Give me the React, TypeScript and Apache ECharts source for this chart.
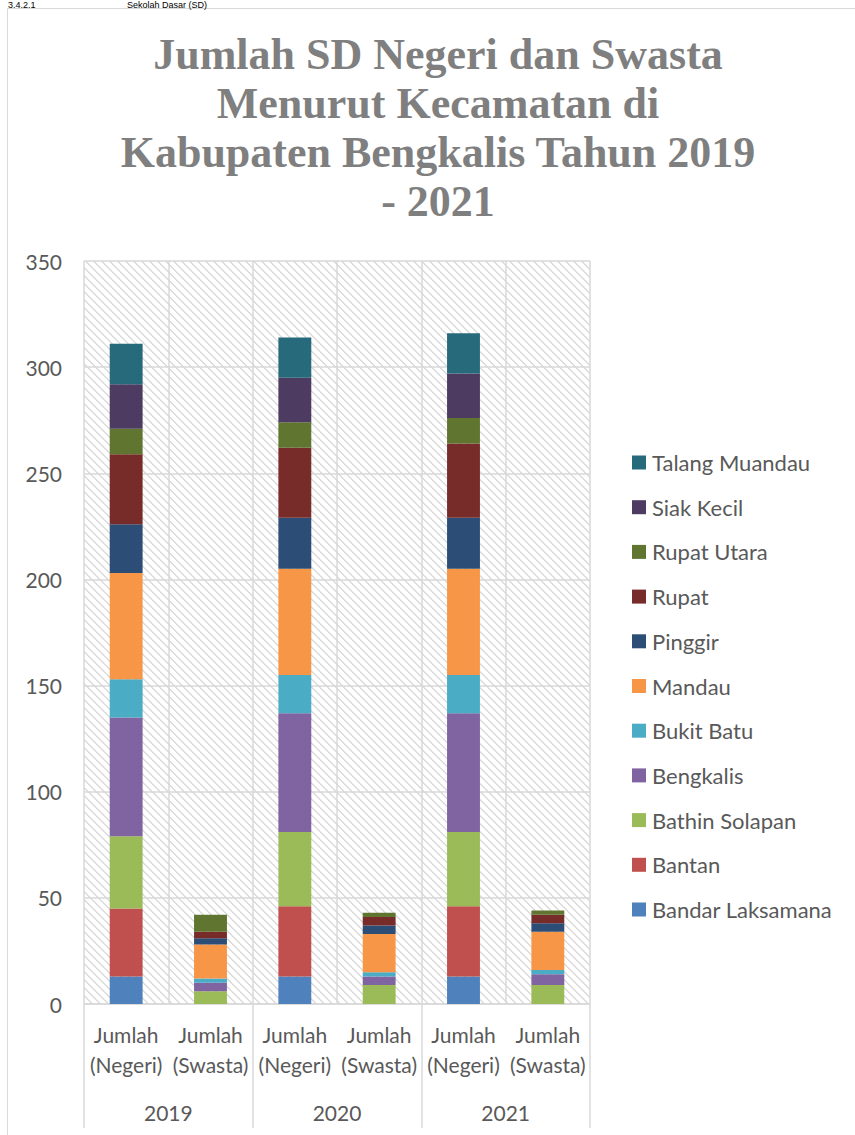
import React, { useEffect, useRef } from "react";
import * as echarts from "echarts";

const categories = [
  "Jumlah\n(Negeri)", "Jumlah\n(Swasta)",
  "Jumlah\n(Negeri)", "Jumlah\n(Swasta)",
  "Jumlah\n(Negeri)", "Jumlah\n(Swasta)",
];
const years = ["2019", "2020", "2021"];
const yTicks = { min: 0, max: 350, interval: 50 };

const bandarLaksamana = [13, 0, 13, 0, 13, 0];
const bantan = [32, 0, 33, 0, 33, 0];
const bathinSolapan = [34, 6, 35, 9, 35, 9];
const bengkalis = [56, 4, 56, 4, 56, 5];
const bukitBatu = [18, 2, 18, 2, 18, 2];
const mandau = [50, 16, 50, 18, 50, 18];
const pinggir = [23, 3, 24, 4, 24, 4];
const rupat = [33, 3, 33, 4, 35, 4];
const rupatUtara = [12, 8, 12, 2, 12, 2];
const siakKecil = [21, 0, 21, 0, 21, 0];
const talangMuandau = [19, 0, 19, 0, 19, 0];

const seriesDefs = [
  { name: "Bandar Laksamana", data: bandarLaksamana, color: "#4F81BD" },
  { name: "Bantan", data: bantan, color: "#C0504D" },
  { name: "Bathin Solapan", data: bathinSolapan, color: "#9BBB59" },
  { name: "Bengkalis", data: bengkalis, color: "#8064A2" },
  { name: "Bukit Batu", data: bukitBatu, color: "#4BACC6" },
  { name: "Mandau", data: mandau, color: "#F79646" },
  { name: "Pinggir", data: pinggir, color: "#2C4D75" },
  { name: "Rupat", data: rupat, color: "#772C2A" },
  { name: "Rupat Utara", data: rupatUtara, color: "#5F7530" },
  { name: "Siak Kecil", data: siakKecil, color: "#4D3B62" },
  { name: "Talang Muandau", data: talangMuandau, color: "#276A7C" },
];

const titleText = "Jumlah SD Negeri dan Swasta\nMenurut Kecamatan di\nKabupaten Bengkalis Tahun 2019\n- 2021";

function makeHatch() {
  const c = document.createElement("canvas");
  c.width = 8;
  c.height = 8;
  const ctx = c.getContext("2d")!;
  ctx.fillStyle = "#ffffff";
  ctx.fillRect(0, 0, 8, 8);
  ctx.fillStyle = "#dcdcdc";
  for (let i = 0; i < 8; i++) {
    ctx.fillRect(i, i, 1, 1);
    ctx.fillRect((i + 1) % 8, i, 1, 1);
  }
  return c;
}

export default function App() {
  const ref = useRef<HTMLDivElement>(null);
  useEffect(() => {
    if (!ref.current) return;
    const chart = echarts.init(ref.current, null, { renderer: "svg" });
    const font = "Lato";
    const textColor = "#595959";
    const gridColor = "#d9d9d9";
    const hatch = makeHatch();
    chart.setOption({
      animation: false,
      backgroundColor: "#ffffff",
      title: {
        text: titleText,
        left: 433,
        top: 25,
        textAlign: "center",
        textStyle: {
          fontFamily: "Liberation Serif",
          fontWeight: "bold",
          fontSize: 44,
          lineHeight: 49,
          color: "#7f7f7f",
        },
      },
      graphic: [
        {
          type: "rect",
          shape: { x: 7.5, y: 8.5, width: 900, height: 1200 },
          style: { fill: "none", stroke: gridColor, lineWidth: 1 },
          silent: true,
        },
        {
          type: "text",
          x: 8,
          y: 0,
          style: {
            text: "3.4.2.1",
            font: "9px 'Liberation Sans'",
            fill: "#000",
            verticalAlign: "top",
          },
        },
        {
          type: "text",
          x: 127,
          y: 0,
          style: {
            text: "Sekolah Dasar (SD)",
            font: "9px 'Liberation Sans'",
            fill: "#000",
            verticalAlign: "top",
          },
        },
      ],
      legend: {
        orient: "vertical",
        left: 627,
        top: 446.5,
        itemWidth: 14,
        itemHeight: 14,
        itemGap: 22.7,
        icon: "rect",
        data: seriesDefs.map((s) => s.name).reverse(),
        textStyle: { fontFamily: font, fontSize: 22, lineHeight: 21, color: textColor, padding: [0, 0, 0, 1] },
      },
      grid: {
        left: 84,
        right: 265,
        top: 261,
        bottom: 131,
        show: true,
        backgroundColor: { image: hatch, repeat: "repeat" },
        borderWidth: 0,
      },
      xAxis: [
        {
          type: "category",
          data: categories,
          axisLine: { show: true, lineStyle: { color: gridColor, width: 1.5 } },
          axisTick: { show: false },
          splitLine: { show: true, interval: 0, lineStyle: { color: gridColor, width: 1.5 } },
          axisLabel: {
            interval: 0,
            margin: 15,
            fontFamily: font,
            fontSize: 21,
            lineHeight: 30,
            color: textColor,
          },
        },
        {
          type: "category",
          data: years,
          position: "bottom",
          axisLine: { show: false },
          axisTick: { show: true, length: 124, interval: 0, lineStyle: { color: gridColor, width: 1.5 } },
          splitLine: { show: false },
          axisLabel: {
            interval: 0,
            margin: 93,
            fontFamily: font,
            fontSize: 21,
            lineHeight: 30,
            color: textColor,
          },
        },
      ],
      yAxis: {
        type: "value",
        min: yTicks.min,
        max: yTicks.max,
        interval: yTicks.interval,
        axisLine: { show: false },
        axisTick: { show: false },
        splitLine: { show: true, lineStyle: { color: gridColor, width: 1.5 } },
        axisLabel: { margin: 22, fontFamily: font, fontSize: 21, color: textColor },
      },
      series: seriesDefs.map((s) => ({
        name: s.name,
        type: "bar",
        stack: "total",
        xAxisIndex: 0,
        barWidth: "39%",
        data: s.data,
        itemStyle: { color: s.color },
        emphasis: { disabled: true },
      })),
    });
    return () => chart.dispose();
  }, []);
  return (
    <div
      ref={ref}
      style={{ position: "absolute", left: 0, top: 0, width: 855, height: 1135 }}
    />
  );
}
